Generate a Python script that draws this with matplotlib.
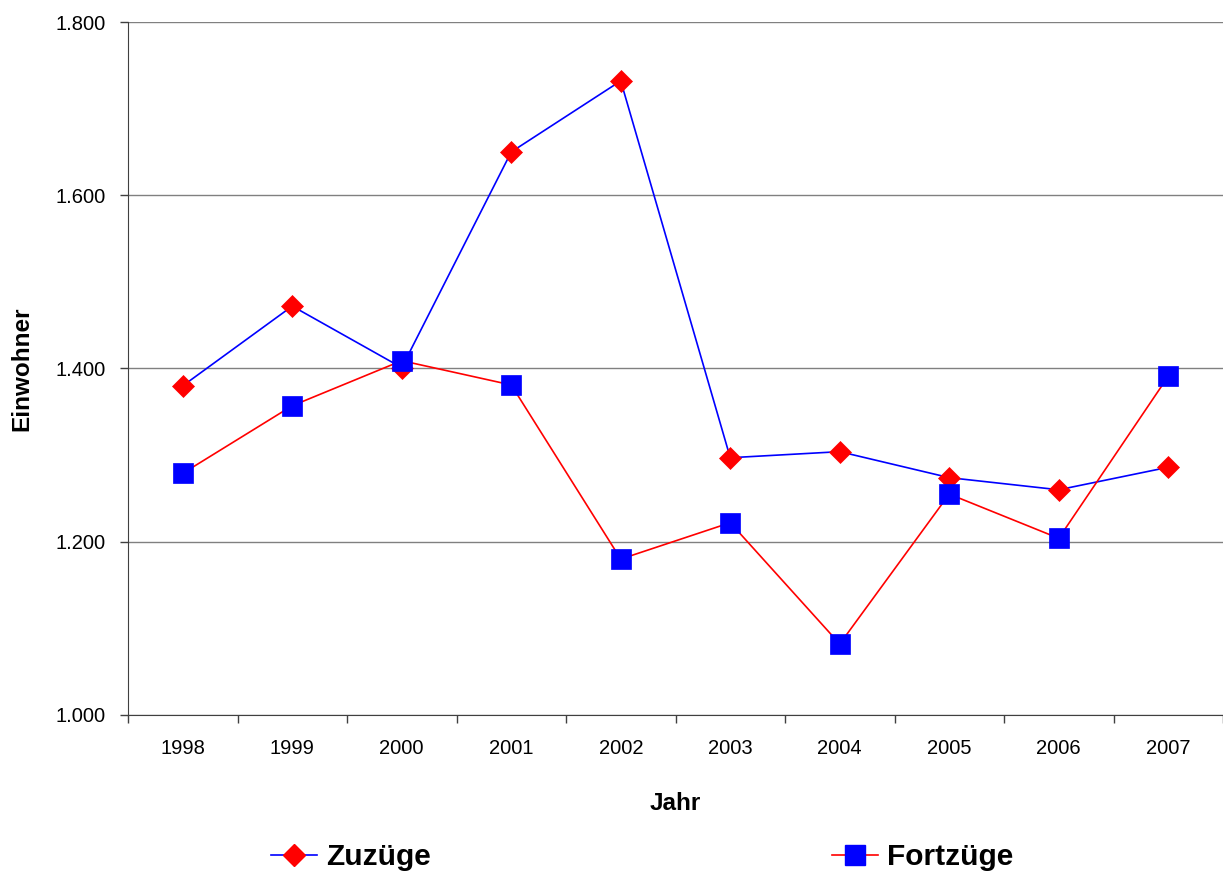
import matplotlib.pyplot as plt
from matplotlib.lines import Line2D

plt.rcParams['font.family'] = ['Liberation Sans', 'DejaVu Sans']

# data
jahre = ['1998', '1999', '2000', '2001', '2002', '2003', '2004', '2005', '2006', '2007']
zuzuege = [1380, 1472, 1401, 1650, 1732, 1297, 1304, 1274, 1260, 1286]
fortzuege = [1279, 1357, 1409, 1381, 1180, 1222, 1082, 1255, 1204, 1391]
y_ticks = [1000, 1200, 1400, 1600, 1800]

fig = plt.figure(figsize=(12.23, 8.72), dpi=100)
ax = fig.add_axes([128 / 1223, 1 - 715 / 872, 1 - 128 / 1223, (715 - 22) / 872])

x = list(range(len(jahre)))
ax.plot(x, zuzuege, color='blue', lw=1.2, marker='D', ms=11.5,
        mfc='red', mec='red', mew=0.5, zorder=3)
ax.plot(x, fortzuege, color='red', lw=1.2, marker='s', ms=14,
        mfc='blue', mec='blue', mew=0.5, zorder=3)

ax.set_xlim(-0.5, len(jahre) - 0.5)
ax.set_ylim(1000, 1800)
ax.set_yticks(y_ticks)
ax.set_yticklabels(['{:,}'.format(v).replace(',', '.') for v in y_ticks])
ax.yaxis.grid(True, color='#808080', lw=1.0)
ax.set_axisbelow(True)

# category labels centered, tick marks at category boundaries
ax.set_xticks(x)
ax.set_xticklabels(jahre)
ax.tick_params(axis='x', length=0, pad=17, labelsize=14.5)
ax.set_xticks([i - 0.5 for i in range(len(jahre) + 1)], minor=True)
ax.tick_params(axis='x', which='minor', length=6, width=1, color='#404040')
ax.tick_params(axis='y', length=6, width=1, color='#404040', labelsize=14.5, pad=10)

for s in ['top', 'right']:
    ax.spines[s].set_visible(False)
ax.spines['left'].set_color('#404040')
ax.spines['bottom'].set_color('#404040')

ax.set_xlabel('Jahr', fontsize=17.5, fontweight='bold', labelpad=25)
ax.set_ylabel('Einwohner', fontsize=17.5, fontweight='bold', labelpad=16)

h1 = Line2D([], [], color='blue', lw=1.2, marker='D', ms=11.5, mfc='red', mec='red')
h2 = Line2D([], [], color='red', lw=1.2, marker='s', ms=14, mfc='blue', mec='blue')
fig.legend([h1, h2], ['Zuzüge', 'Fortzüge'], loc='center', ncol=2,
           bbox_to_anchor=(0.525, 0.017), frameon=False,
           prop={'size': 21.5, 'weight': 'bold'}, columnspacing=13.45,
           handlelength=1.55, handletextpad=0.3)

fig.savefig('out.png', dpi=100)
